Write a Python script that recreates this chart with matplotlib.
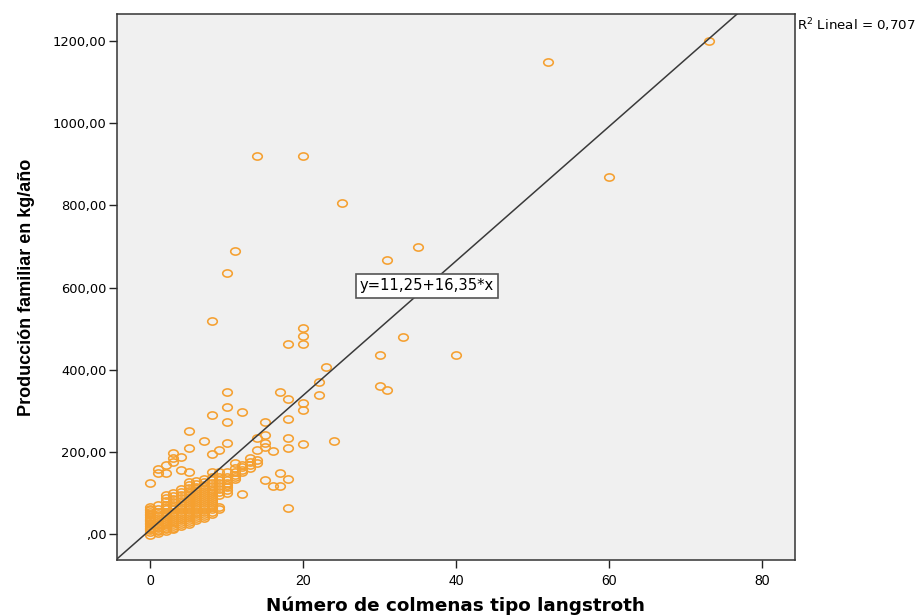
"""Scatter of family honey production against number of Langstroth hives, SPSS style."""

import matplotlib

matplotlib.use("Agg")
import matplotlib.pyplot as plt
import numpy as np
from matplotlib.path import Path
from matplotlib.transforms import Affine2D

# Production (kg/year), grouped by number of hives.
production_by_hives = {
    0: [-3, 5, 9, 12, 16, 20, 24, 28, 32, 35, 38, 42, 46, 50, 54, 58, 62, 65, 125],
    1: [3, 7, 10, 14, 18, 22, 25, 30, 35, 40, 45, 50, 55, 62, 70, 148, 158],
    2: [8, 12, 15, 20, 25, 30, 35, 40, 45, 50, 55, 60, 65, 72, 80, 88, 95, 148, 168],
    3: [12, 16, 20, 25, 30, 35, 40, 45, 50, 55, 60, 65, 70, 78, 85, 92, 100, 175, 185, 197],
    4: [20, 25, 30, 35, 40, 45, 50, 55, 60, 65, 70, 75, 80, 88, 95, 102, 110, 155, 187],
    5: [25, 30, 35, 40, 45, 50, 55, 60, 65, 70, 75, 80, 85, 90, 95, 100, 105, 112, 120, 127, 150, 209, 250],
    6: [35, 40, 45, 50, 55, 60, 65, 70, 75, 80, 85, 90, 95, 100, 105, 110, 115, 122, 130],
    7: [40, 45, 50, 55, 60, 65, 70, 75, 80, 85, 90, 95, 100, 105, 110, 115, 120, 128, 135, 226],
    8: [50, 55, 60, 65, 70, 75, 80, 85, 90, 95, 100, 105, 110, 118, 125, 132, 140, 150, 194, 290, 519],
    9: [60, 65, 95, 102, 110, 118, 125, 132, 140, 150, 204],
    10: [100, 108, 115, 120, 125, 132, 140, 150, 221, 272, 309, 345, 635],
    11: [135, 140, 145, 152, 160, 172, 690],
    12: [97, 150, 157, 163, 168, 298],
    13: [160, 168, 175, 185],
    14: [172, 180, 204, 233, 920],
    15: [131, 211, 221, 241, 272],
    16: [117, 202],
    17: [117, 148, 345],
    18: [63, 134, 209, 233, 280, 330, 462],
    20: [219, 302, 319, 462, 482, 501, 920],
    22: [338, 370],
    23: [407],
    24: [226],
    25: [805],
    30: [360, 437],
    31: [350, 667],
    33: [480],
    35: [700],
    40: [437],
    52: [1150],
    60: [870],
    73: [1200],
}
hives = np.concatenate([[k] * len(v) for k, v in production_by_hives.items()])
production = np.concatenate(list(production_by_hives.values()))

intercept = 11.25
slope = 16.35
r_squared = "0,707"

x_ticks = [0, 20, 40, 60, 80]
y_ticks = [0, 200, 400, 600, 800, 1000, 1200]
y_tick_labels = [",00", "200,00", "400,00", "600,00", "800,00", "1000,00", "1200,00"]

# The source chart was stretched sideways, so the circles are slightly oval.
oval = Path.unit_circle().transformed(Affine2D().scale(1.33, 1.0))

fig = plt.figure(figsize=(9.2, 6.16), dpi=100)
ax = fig.add_axes([0.127, 0.0909, 0.737, 0.8864])
ax.set_facecolor("#f0f0f0")

ax.plot(
    hives,
    production,
    linestyle="none",
    marker=oval,
    markersize=6.9,
    markerfacecolor="none",
    markeredgecolor="#f5a030",
    markeredgewidth=1.15,
    zorder=3,
)

xlim = (-4.4, 84.3)
ylim = (-63, 1266)
line_x = np.array(xlim)
ax.plot(line_x, intercept + slope * line_x, color="#3a3a3a", linewidth=1.1, zorder=4)
ax.set_xlim(xlim)
ax.set_ylim(ylim)

ax.text(
    36.2,
    604,
    f"y={intercept:.2f}+{slope:.2f}*x".replace(".", ","),
    ha="center",
    va="center",
    fontsize=10.6,
    family="DejaVu Sans",
    zorder=5,
    bbox=dict(boxstyle="square,pad=0.28", facecolor="white", edgecolor="#555555", linewidth=1.2),
)

fig.text(
    0.866,
    1 - 25 / 616,
    r"$\mathregular{R^2}$ Lineal = " + r_squared,
    ha="left",
    va="center",
    fontsize=9.6,
    family="DejaVu Sans",
)

ax.set_xticks(x_ticks)
ax.set_xticklabels([str(v) for v in x_ticks], family="Liberation Sans", fontsize=10)
ax.set_yticks(y_ticks)
ax.set_yticklabels(y_tick_labels, family="DejaVu Sans", fontsize=9.4)
ax.tick_params(axis="both", direction="out", length=5.8, width=1, color="#222222")
ax.tick_params(axis="x", pad=4)
ax.tick_params(axis="y", pad=1.5)
for spine in ax.spines.values():
    spine.set_color("#333333")
    spine.set_linewidth(1.1)

ax.set_xlabel(
    "Número de colmenas tipo langstroth",
    family="DejaVu Sans",
    fontweight="bold",
    fontsize=13.2,
    va="center",
)
ax.xaxis.set_label_coords(0.5, -0.084)
ax.set_ylabel(
    "Producción familiar en kg/año",
    family="Liberation Sans",
    fontweight="bold",
    fontsize=13,
    va="center",
)
ax.yaxis.set_label_coords(-0.133, 0.5)

fig.savefig("out.png", dpi=100)
